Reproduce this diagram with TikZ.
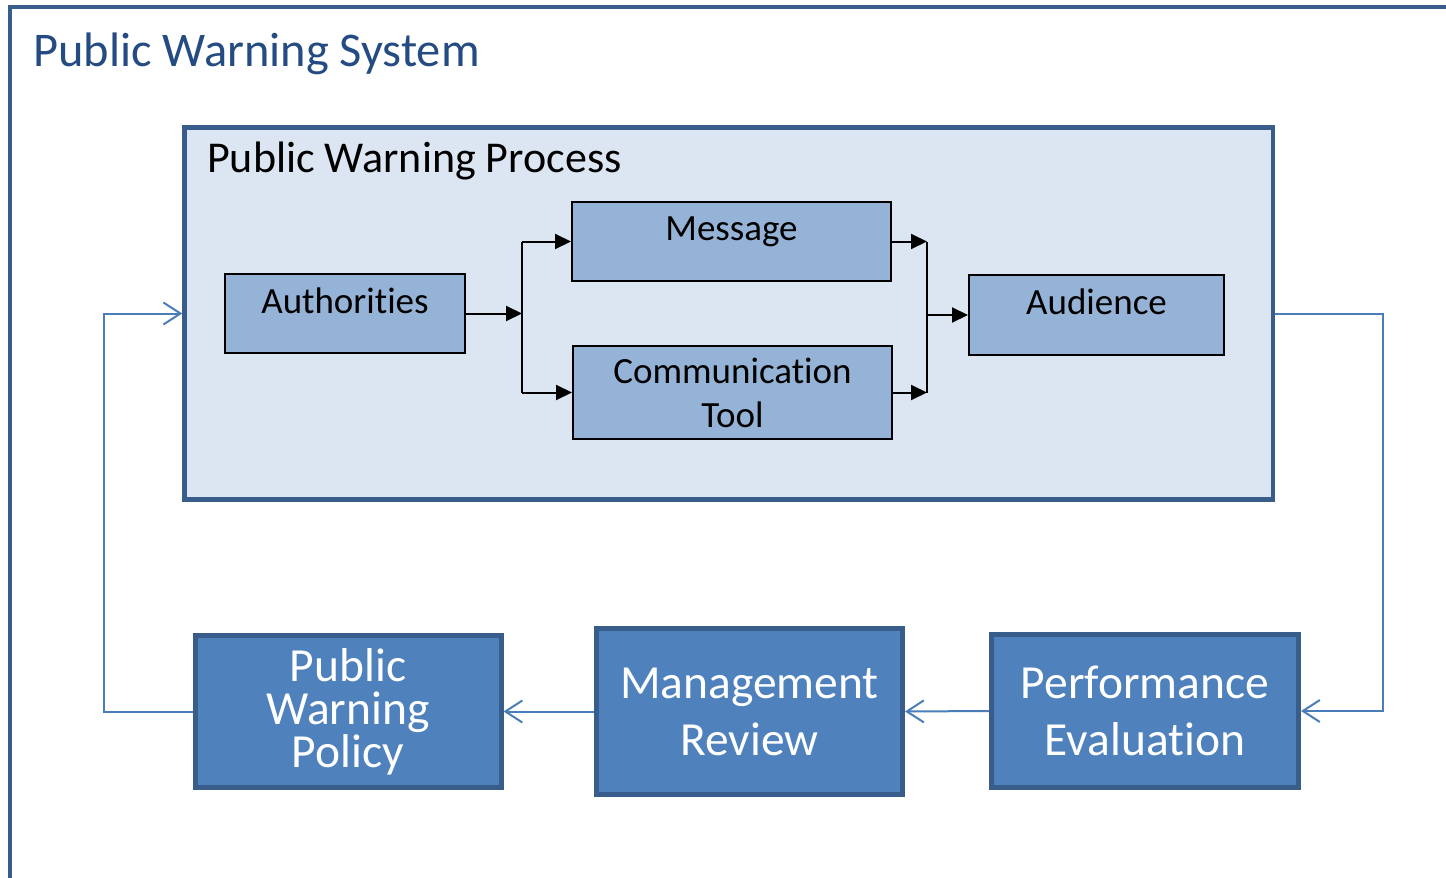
\documentclass[tikz,border=0pt]{standalone}
\usepackage{fontspec}
\setmainfont[Ligatures=NoCommon]{Carlito}
\usetikzlibrary{arrows.meta}
\definecolor{frameblue}{RGB}{56,93,138}
\definecolor{titleblue}{RGB}{36,75,130}
\definecolor{procfill}{RGB}{220,230,242}
\definecolor{smallfill}{RGB}{149,179,215}
\definecolor{bigfill}{RGB}{79,129,189}
\definecolor{linkblue}{RGB}{74,126,187}
\tikzset{
  procbox/.style={draw=frameblue, fill=procfill, line width=4.5pt, inner sep=0pt},
  smallbox/.style={draw=black, fill=smallfill, line width=2pt, inner sep=0pt},
  bigbox/.style={draw=frameblue, fill=bigfill, line width=5pt, inner sep=0pt, text=white, align=center},
  smalltext/.style={inner sep=0pt, font=\fontsize{37}{44}\selectfont, align=center},
  blk/.style={draw=black, line width=2pt},
  blkarrow/.style={blk, -{Triangle[length=16pt,width=15pt]}},
  bluelink/.style={draw=linkblue, line width=2pt, -{Straight Barb[length=17pt,width=22pt,line width=2pt]}},
}
\begin{document}
\begin{tikzpicture}[x=1pt,y=-1pt]
\useasboundingbox (0,0) rectangle (1446,878);
\clip (0,0) rectangle (1446,878);
\fill[white] (0,0) rectangle (1446,878);
% outer frame
\draw[frameblue, line width=4pt] (10,900) -- (10,7) -- (1460,7);
\node[anchor=base west, inner sep=0pt, text=titleblue, font=\fontsize{48.4}{58}\selectfont] (systitle) at (33,66) {Public Warning System};

% process box
\node[procbox, minimum width=1088.5pt, minimum height=372pt] (proc) at (728.75,313.5) {};
\node[anchor=base west, inner sep=0pt, font=\fontsize{44}{52}\selectfont] (proctitle) at (207,172) {Public Warning Process};

\node[smallbox, minimum width=240pt, minimum height=79pt] (auth) at (345,313.5) {};
\node[smalltext] (authlbl) at ([yshift=13pt]auth.center) {Authorities};
\node[smallbox, minimum width=319pt, minimum height=79pt] (msg) at (731.5,241.5) {};
\node[smalltext] (msglbl) at ([yshift=10pt]msg.center) {Message};
\node[smallbox, minimum width=319pt, minimum height=93pt] (comm) at (732.5,392.5) {};
\node[smalltext] (commlbl) at (comm.center) {Communication\\Tool};
\node[smallbox, minimum width=255pt, minimum height=80pt] (aud) at (1096.5,315) {};
\node[smalltext] (audlbl) at ([yshift=13pt]aud.center) {Audience};

\coordinate (j1) at (522,312);
\coordinate (j2) at (927,317);
\draw[blkarrow] (auth.east) -- (j1 |- auth.east);
\draw[blk] (j1 |- msg.west) -- (j1 |- comm.west);
\draw[blkarrow] (j1 |- msg.west) -- (msg.west);
\draw[blkarrow] (j1 |- comm.west) -- (comm.west);
\draw[blkarrow] (msg.east) -- (j2 |- msg.east);
\draw[blkarrow] (comm.east) -- (j2 |- comm.east);
\draw[blk] (j2 |- msg.east) -- (j2 |- comm.east);
\draw[blkarrow] (j2 |- aud.west) -- (aud.west);

% bottom boxes
\node[bigbox, minimum width=306pt, minimum height=152pt, font=\fontsize{47.5}{43}\selectfont] (pol) at (348,711.5) {Public\\Warning\\Policy};
\node[bigbox, minimum width=306pt, minimum height=166pt, font=\fontsize{47.5}{57}\selectfont] (mgmt) at (749.5,711.5) {Management\\Review};
\node[bigbox, minimum width=307pt, minimum height=153pt, font=\fontsize{47.5}{57}\selectfont] (perf) at (1145,711) {Performance\\Evaluation};

\coordinate (rc) at (1383,0);
\coordinate (lc) at (104,0);
\draw[bluelink] (proc.east) -- (proc.east -| rc) |- (perf.east);
\draw[bluelink] (perf.west) -- (mgmt.east);
\draw[bluelink] (mgmt.west) -- (pol.east);
\draw[bluelink] (pol.west) -- (pol.west -| lc) |- (proc.west);
\end{tikzpicture}
\end{document}
